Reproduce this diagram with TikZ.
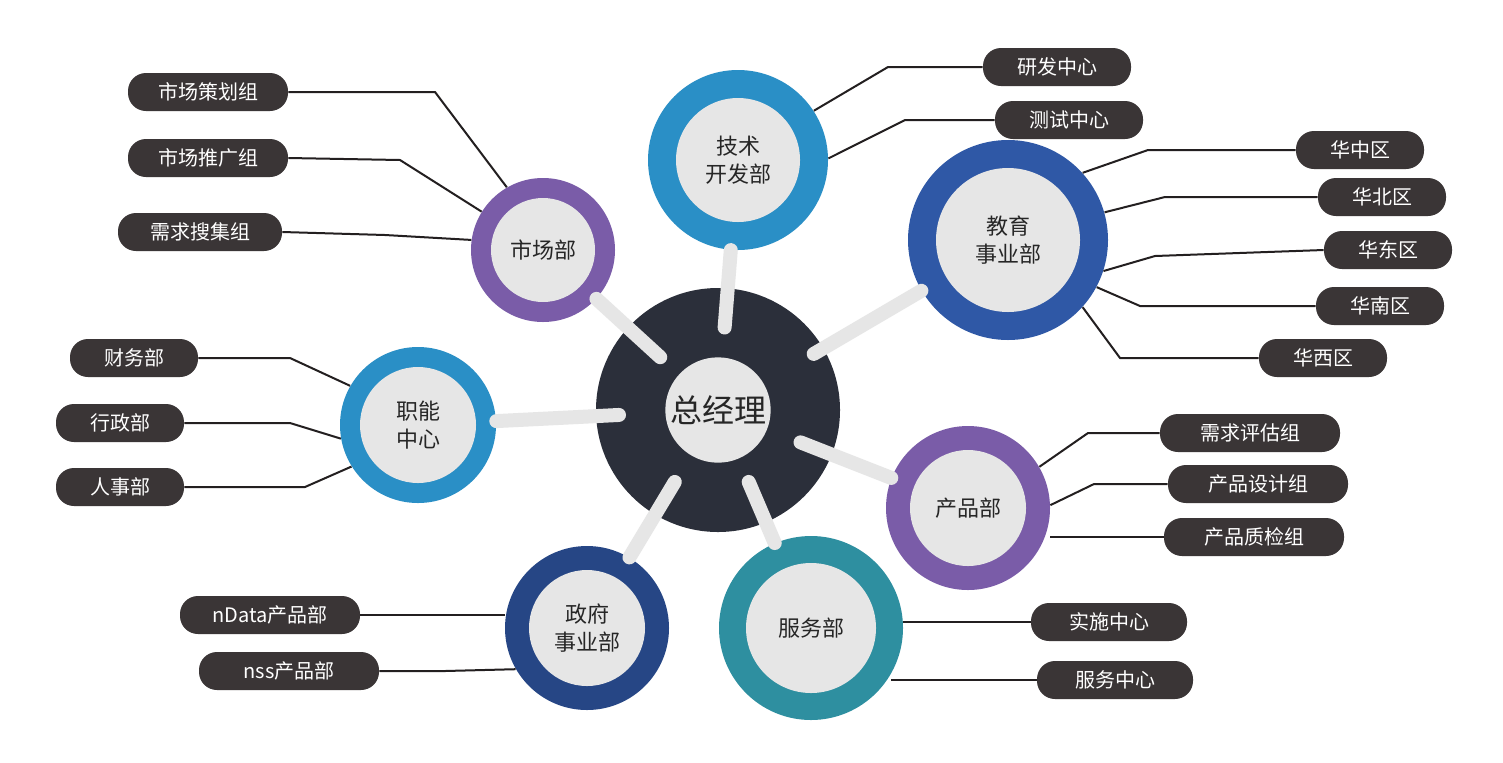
\documentclass[tikz,border=0pt]{standalone}
\usepackage{fontspec}
\setmainfont{Noto Sans CJK SC}
\usetikzlibrary{calc}
\definecolor{pillgray}{HTML}{3A3536}
\definecolor{linedark}{HTML}{231F20}
\definecolor{hubdark}{HTML}{2B2F3A}
\definecolor{stemgray}{HTML}{E6E6E6}
\definecolor{cblue}{HTML}{2A8FC6}
\definecolor{cnavy}{HTML}{2F58A6}
\definecolor{cpurple}{HTML}{7A5CA8}
\definecolor{cteal}{HTML}{2E8FA0}
\tikzstyle{pill} = [rectangle, rounded corners=9pt, minimum height=19pt, fill=pillgray, text=white, font=\fontsize{10}{12}\selectfont, inner sep=2pt]
\tikzstyle{ring} = [circle, inner sep=0pt]
\tikzstyle{core} = [circle, inner sep=0pt, fill=stemgray, align=center, font=\fontsize{11}{14}\selectfont, text=black!85]
\tikzstyle{stem} = [stemgray, line width=7pt, line cap=round]
\tikzstyle{wire} = [linedark, line width=1pt]

\begin{document}
\begin{tikzpicture}[x=0.5pt, y=-0.5pt]
        \useasboundingbox (0,0) rectangle (1503,762);
        \fill[white] (0,0) rectangle (1503,762);

        % hub
        \node (Hub) [circle, fill=hubdark, minimum size=122pt, inner sep=0pt] at (718,410) {};

        % department rings
        \node (Tech Ring) [ring, fill=cblue, minimum size=90pt] at (738,160) {};
        \node (Edu Ring) [ring, fill=cnavy, minimum size=100pt] at (1008,240) {};
        \node (Market Ring) [ring, fill=cpurple, minimum size=72pt] at (543,250) {};
        \node (Func Ring) [ring, fill=cblue, minimum size=78pt] at (418,425) {};
        \node (Product Ring) [ring, fill=cpurple, minimum size=82pt] at (968,508) {};
        \node (Service Ring) [ring, fill=cteal, minimum size=92pt] at (811,628) {};
        \node (Gov Ring) [ring, fill=cnavy!80!black, minimum size=82pt] at (587,628) {};

        % stems
        \foreach \r in {Tech Ring, Edu Ring, Market Ring, Func Ring, Product Ring, Service Ring, Gov Ring}
            \draw [stem] ($(Hub)!0.33!(\r)$) -- (\r);

        \node (Tech) [core, minimum size=62pt] at (Tech Ring) {技术\\开发部};
        \node (Edu) [core, minimum size=72pt] at (Edu Ring) {教育\\事业部};
        \node (Market) [core, minimum size=52pt] at (Market Ring) {市场部};
        \node (Func) [core, minimum size=58pt] at (Func Ring) {职能\\中心};
        \node (Product) [core, minimum size=58pt] at (Product Ring) {产品部};
        \node (Service) [core, minimum size=65pt] at (Service Ring) {服务部};
        \node (Gov) [core, minimum size=58pt] at (Gov Ring) {政府\\事业部};
        \node (Boss) [text=black!85, font=\fontsize{16}{18}\selectfont, fill=stemgray, circle, inner sep=1pt] at (Hub) {总经理};

        % leaves
        \node (Plan) [pill, minimum width=80pt] at (208,92) {市场策划组};
        \node (Promo) [pill, minimum width=80pt] at (208,158) {市场推广组};
        \node (Demand) [pill, minimum width=82pt] at (200,232) {需求搜集组};
        \node (RD) [pill, minimum width=74pt] at (1057,67) {研发中心};
        \node (Test) [pill, minimum width=74pt] at (1069,120) {测试中心};
        \node (Central) [pill, minimum width=64pt] at (1360,150) {华中区};
        \node (North) [pill, minimum width=64pt] at (1382,197) {华北区};
        \node (East) [pill, minimum width=64pt] at (1388,250) {华东区};
        \node (South) [pill, minimum width=64pt] at (1380,306) {华南区};
        \node (West) [pill, minimum width=64pt] at (1323,358) {华西区};
        \node (Finance) [pill, minimum width=64pt] at (134,358) {财务部};
        \node (Admin) [pill, minimum width=64pt] at (120,423) {行政部};
        \node (HR) [pill, minimum width=64pt] at (120,487) {人事部};
        \node (Assess) [pill, minimum width=90pt] at (1250,433) {需求评估组};
        \node (Design) [pill, minimum width=90pt] at (1258,484) {产品设计组};
        \node (QA) [pill, minimum width=90pt] at (1254,537) {产品质检组};
        \node (nData) [pill, minimum width=90pt] at (270,615) {nData产品部};
        \node (nss) [pill, minimum width=90pt] at (289,671) {nss产品部};
        \node (Deploy) [pill, minimum width=78pt] at (1109,622) {实施中心};
        \node (Support) [pill, minimum width=78pt] at (1115,680) {服务中心};

        % wires
        \draw [wire] (Plan.east) -- (435,92) -- (Market Ring.120);
        \draw [wire] (Promo.east) -- (400,160) -- (Market Ring.148);
        \draw [wire] (Demand.east) -- (385,235) -- (Market Ring.172);
        \draw [wire] (RD.west) -- (888,67) -- (Tech Ring.33);
        \draw [wire] (Test.west) -- (905,120) -- (Tech Ring.1);
        \draw [wire] (Central.west) -- (1148,150) -- (Edu Ring.42);
        \draw [wire] (North.west) -- (1165,197) -- (Edu Ring.16);
        \draw [wire] (East.west) -- (1155,256) -- (Edu Ring.-18);
        \draw [wire] (South.west) -- (1140,306) -- (Edu Ring.-28);
        \draw [wire] (West.west) -- (1120,358) -- (Edu Ring.-42);
        \draw [wire] (Finance.east) -- (290,358) -- (Func Ring.150);
        \draw [wire] (Admin.east) -- (290,423) -- (Func Ring.190);
        \draw [wire] (HR.east) -- (305,487) -- (Func Ring.212);
        \draw [wire] (Assess.west) -- (1088,433) -- (Product Ring.30);
        \draw [wire] (Design.west) -- (1094,484) -- (Product Ring.2);
        \draw [wire] (QA.west) -- (Product Ring.east |- QA.west);
        \draw [wire] (nData.east) -- (Gov Ring.west |- nData.east);
        \draw [wire] (nss.east) -- (445,671) -- (Gov Ring.-150);
        \draw [wire] (Deploy.west) -- (Service Ring.east |- Deploy.west);
        \draw [wire] (Support.west) -- (Service Ring.-30 |- Support.west);
    \end{tikzpicture}
\end{document}
